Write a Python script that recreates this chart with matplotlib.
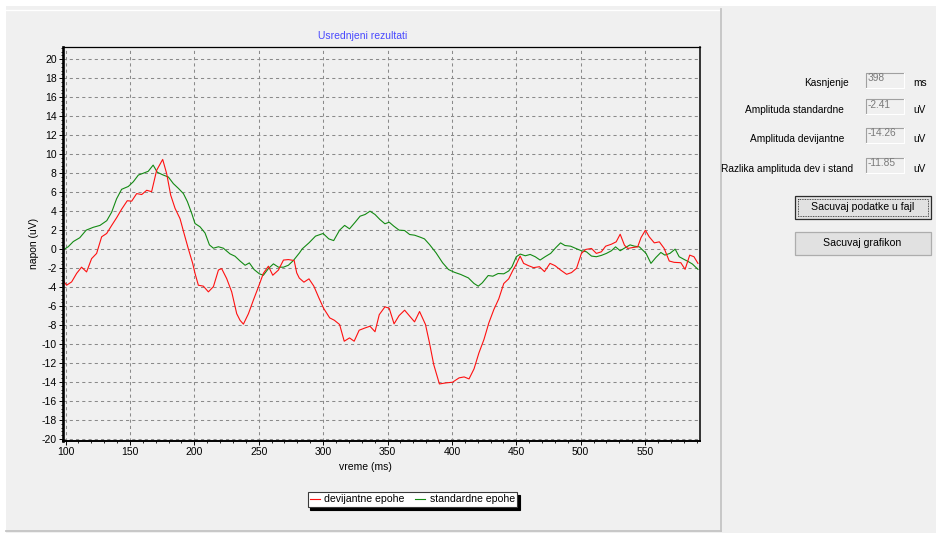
import numpy as np
import matplotlib.pyplot as plt
from matplotlib.patches import Rectangle
from matplotlib.ticker import MultipleLocator

plt.rcParams['font.family'] = ['Liberation Sans', 'DejaVu Sans']
plt.rcParams['axes.unicode_minus'] = False

# averaged ERP, standard epochs (green)
t_std = [98, 102, 106, 111, 116, 121.5, 126.7, 132, 135.8, 139.6, 143.5, 148.7,
         152.6, 156.5, 160.4, 164.2, 168, 171.2, 175.9, 179.8, 183.7, 187.6, 191.5,
         194.6, 198, 200.5, 204.4, 208.3, 211.7, 214.8, 218.7, 222.5, 227.7, 231.6,
         235.5, 239.4, 242.7, 246.4, 250.5, 253.6, 257.5, 261.4, 265.3, 269.2, 273,
         276.9, 281.6, 283.8, 289, 294.1, 300, 304.4, 308.2, 312.8, 316.7, 320.5,
         324.9, 328.7, 332.6, 336.4, 340.3, 344.1, 348, 351.3, 354.9, 359, 363.3,
         367.2, 371, 375.4, 378.7, 382.6, 387.7, 392.8, 397.4, 401.8, 406.9, 412.8,
         417.2, 420.5, 423.6, 428.2, 431.8, 435.9, 440.3, 444.1, 446.7, 450, 453.1,
         457, 460.8, 464.7, 468.5, 472.4, 476.7, 480.8, 484.4, 487.8, 492.2, 496.3,
         500.6, 504.5, 508.4, 512.2, 516.1, 520, 523.9, 527.1, 530.7, 534.8, 538.4,
         541.8, 545.6, 550.8, 554.6, 558.5, 562.3, 565.4, 569.3, 573.4, 576.5, 580.3,
         583.7, 586.8, 591.1]
v_std = [-0.1, 0.25, 0.8, 1.2, 2.0, 2.3, 2.5, 3.0, 3.9, 5.3, 6.3, 6.6,
         7.1, 7.8, 8.0, 8.2, 8.85, 8.1, 7.8, 7.6, 6.9, 6.4, 5.85,
         5.0, 3.75, 2.7, 2.35, 1.7, 0.45, 0.1, 0.25, 0.1, -0.5, -0.75,
         -1.25, -1.7, -1.45, -2.15, -2.6, -2.75, -2.05, -1.55, -1.9, -1.9, -1.7,
         -1.2, -0.4, 0.03, 0.66, 1.37, 1.65, 1.08, 0.9, 2.0, 2.5, 2.14,
         2.84, 3.47, 3.65, 4.0, 3.65, 3.12, 2.67, 2.84, 2.42, 2.0, 1.96,
         1.54, 1.47, 1.26, 1.08, 0.49, -0.39, -1.44, -2.15, -2.43, -2.67, -3.03,
         -3.62, -3.9, -3.55, -2.78, -2.85, -2.57, -2.6, -2.3, -1.85, -0.8, -0.52,
         -0.7, -0.56, -0.8, -1.15, -0.8, -0.45, 0.17, 0.66, 0.38, 0.31, 0.07,
         -0.17, -0.28, -0.73, -0.8, -0.66, -0.45, -0.17, 0.24, -0.17, 0.17, 0.45,
         0.31, 0.24, -0.45, -1.5, -0.87, -0.35, -0.63, -0.45, 0.0, -0.8, -1.08,
         -1.32, -1.57, -2.13]

# averaged ERP, deviant epochs (red)
t_dev = [98, 100.8, 104.7, 108.6, 112.4, 116.3, 120.2, 124.1, 128, 131.9, 135.8,
         139.6, 143.5, 147.9, 151.3, 155.2, 159.1, 163, 166.8, 170.7, 175.4, 178.5,
         181.6, 185, 188.9, 192, 195.3, 198.7, 200.5, 203.1, 207, 210.9, 214.8,
         218.7, 221.2, 225.1, 229, 232.9, 235.5, 238.1, 242, 245.9, 249.7, 253.6,
         257.5, 260.9, 265.3, 269.2, 273, 277.5, 279.5, 281.5, 285.1, 289, 292.8,
         296.7, 300.5, 305.1, 308.7, 312.8, 316.4, 320.5, 324.1, 328, 332.6, 336.4,
         340.3, 343.6, 348, 351.3, 355.1, 359, 363.3, 367.2, 371, 374.9, 379.5,
         382.6, 385.9, 390.3, 395.4, 400.5, 405.6, 409.5, 413.3, 417.2, 421, 424.9,
         428.7, 432.6, 436.4, 440.3, 444.1, 447.5, 450, 453, 455.7, 459.5, 463.4,
         468, 471.9, 476.2, 480.1, 484.4, 489.1, 492.9, 496.8, 500.6, 504, 508.4,
         512.2, 516.1, 519.4, 523.9, 527.6, 530.7, 534, 536.6, 540.5, 544.3, 546.9,
         550.3, 553.3, 557.2, 561.1, 564.9, 568.8, 572.6, 577.8, 581.1, 584.7, 588,
         591.1]
v_dev = [-3.3, -3.8, -3.45, -2.55, -1.9, -2.4, -1.0, -0.45, 1.3, 1.65, 2.5,
         3.3, 4.2, 5.1, 5.05, 5.85, 5.75, 6.2, 6.05, 8.3, 9.45, 7.95,
         5.7, 4.3, 3.2, 1.65, 0.05, -1.5, -2.55, -3.8, -3.9, -4.5, -3.95,
         -2.2, -2.05, -3.1, -4.5, -6.8, -7.5, -7.9, -6.8, -5.35, -4.0, -2.55,
         -1.8, -2.75, -2.2, -1.15, -1.1, -1.2, -2.5, -3.05, -3.48, -3.13, -3.9,
         -5.13, -6.26, -7.24, -7.49, -7.94, -9.7, -9.35, -9.7, -8.54, -8.3, -8.12,
         -8.7, -6.9, -6.08, -6.22, -7.87, -7.0, -6.43, -7.06, -7.66, -6.57, -7.94,
         -9.87, -12.16, -14.2, -14.09, -14.02, -13.56, -13.46, -13.67, -12.61, -10.93, -9.52,
         -7.77, -6.36, -5.24, -3.62, -3.13, -2.2, -1.6, -0.73, -1.5, -1.74, -1.95,
         -1.85, -2.37, -1.5, -1.74, -2.2, -2.65, -2.47, -2.02, -0.45, -0.03, 0.07,
         -0.45, -0.28, 0.31, 0.52, 0.77, 1.57, 0.42, 0.07, 0.17, 0.24, 1.22,
         1.99, 1.29, 0.66, 0.77, 0.07, -1.25, -1.39, -1.43, -2.13, -0.63, -0.8,
         -1.5]

x_ticks = [100, 150, 200, 250, 300, 350, 400, 450, 500, 550]
y_ticks = list(range(-20, 21, 2))

# right panel values
field_labels = ['Kasnjenje', 'Amplituda standardne', 'Amplituda devijantne',
                'Razlika amplituda dev i stand']
field_values = ['398', '-2.41', '-14.26', '-11.85']
field_units = ['ms', 'uV', 'uV', 'uV']
button_labels = ['Sacuvaj podatke u fajl', 'Sacuvaj grafikon']

W, H = 936, 533
BG = '#F0F0F0'
fig = plt.figure(figsize=(W / 100, H / 100), dpi=100, facecolor=BG)

# background "form" drawn in pixel coordinates
bg = fig.add_axes([0, 0, 1, 1], zorder=0)
bg.set_xlim(0, W)
bg.set_ylim(H, 0)
bg.axis('off')
bg.add_patch(Rectangle((0, 0), W, 6, facecolor='white', edgecolor='none'))
bg.add_patch(Rectangle((0, 0), 6, H, facecolor='white', edgecolor='none'))
bg.plot([6, 719], [9.5, 9.5], color='white', lw=1)
bg.plot([720.5, 720.5], [9, 531], color='#C4C4C4', lw=1.3)
bg.plot([6, 721], [530.8, 530.8], color='#C4C4C4', lw=1.3)

# chart
ax = fig.add_axes([62.5 / W, 1 - 441 / H, 637 / W, 393.7 / H], zorder=1)
ax.set_facecolor(BG)
std_line, = ax.plot(t_std, v_std, color='#138A13', lw=0.8)
dev_line, = ax.plot(t_dev, v_dev, color='#FF1010', lw=0.8)
ax.set_xlim(97.6, 592.3)
ax.set_ylim(-20.21, 21.26)
ax.set_xticks(x_ticks)
ax.set_yticks(y_ticks)
ax.xaxis.set_minor_locator(MultipleLocator(10))
ax.yaxis.set_minor_locator(MultipleLocator(0.4))
ax.grid(True, which='major', color='#8A8A8A', lw=0.75, ls=(0, (3, 3)))
ax.tick_params(which='major', length=3, width=0.7, pad=1.2, labelsize=7.5)
ax.tick_params(which='minor', length=1.5, width=0.6)
for side, w in [('left', 1.9), ('bottom', 1.4), ('top', 0.9), ('right', 1.1)]:
    ax.spines[side].set_linewidth(w)
    ax.spines[side].set_color('black')

fig.text(363 / W, 1 - 36 / H, 'Usrednjeni rezultati', color='#4848FF',
         fontsize=7.5, ha='center', va='center')
fig.text(34 / W, 1 - 243 / H, 'napon (uV)', rotation=90, fontsize=7.5,
         ha='center', va='center')
fig.text(365 / W, 1 - 467 / H, 'vreme (ms)', fontsize=7.5, ha='center', va='center')

leg = ax.legend([dev_line, std_line], ['devijantne epohe', 'standardne epohe'],
                ncol=2, loc='center', bbox_to_anchor=(412.5 / W, 1 - 499.5 / H),
                bbox_transform=fig.transFigure, fontsize=7.6, fancybox=False,
                frameon=True, handlelength=0.9, handletextpad=0.45,
                columnspacing=1.0, borderpad=0.25, borderaxespad=0,
                shadow={'facecolor': 'black', 'edgecolor': 'black', 'alpha': 1})
leg.get_frame().set_facecolor('white')
leg.get_frame().set_edgecolor('#3A3A3A')
leg.get_frame().set_linewidth(0.8)
leg.get_frame().set_alpha(1)

# right panel
label_right = [849, 844, 844, 853]
row_y = [80, 106.5, 135.5, 165]
for i in range(len(field_labels)):
    y = row_y[i]
    bg.text(label_right[i], y + 3.5, field_labels[i], fontsize=7.3,
            ha='right', va='center')
    bx0, bx1, by0, by1 = 866, 904, y - 7.5, y + 7.5
    bg.add_patch(Rectangle((bx0, by0), bx1 - bx0, by1 - by0,
                           facecolor=BG, edgecolor='none'))
    bg.plot([bx0, bx0, bx1], [by1, by0, by0], color='#A0A0A0', lw=0.8)
    bg.plot([bx0, bx1, bx1], [by1, by1, by0], color='white', lw=0.8)
    bg.text(bx0 + 2, y - 2, field_values[i], fontsize=7.3, color='#7A7A7A',
            ha='left', va='center')
    bg.text(913, y + 3.5, field_units[i], fontsize=7.3, ha='left', va='center')

btn_y = [(196, 219), (232, 255)]
for i, lab in enumerate(button_labels):
    y0, y1 = btn_y[i]
    edge = '#2C2C2C' if i == 0 else '#ADADAD'
    bg.add_patch(Rectangle((794.5, y0), 136, y1 - y0, facecolor='#E1E1E1',
                           edgecolor=edge, lw=0.9))
    if i == 0:
        bg.add_patch(Rectangle((797.5, y0 + 3), 130, y1 - y0 - 6, facecolor='none',
                               edgecolor='#202020', lw=0.6, ls=(0, (1, 1))))
    bg.text(862.5, (y0 + y1) / 2, lab, fontsize=7.6, ha='center', va='center')

fig.savefig('out.png', dpi=100, facecolor=BG)
